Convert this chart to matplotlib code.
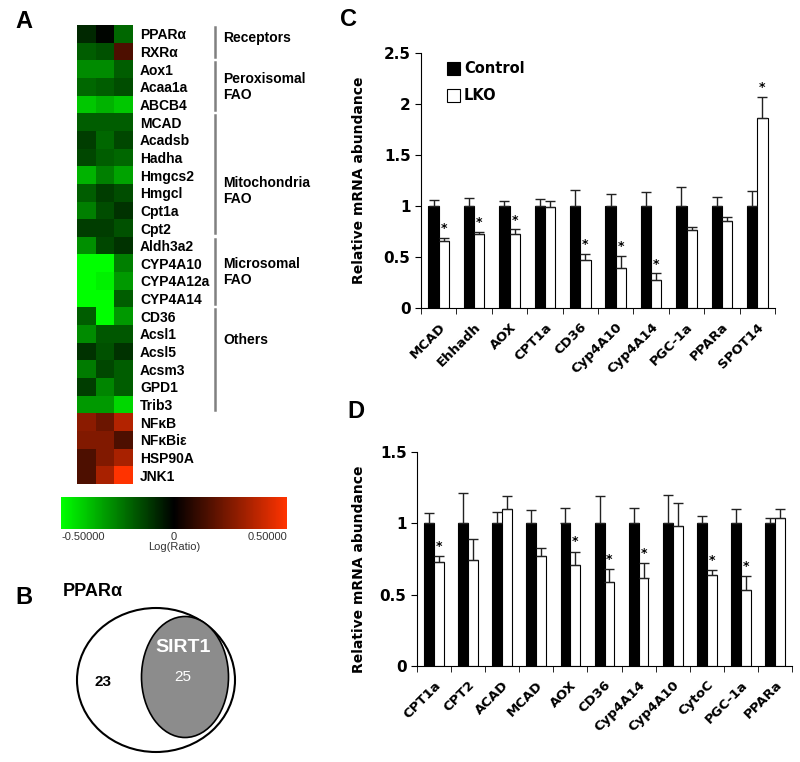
import numpy as np
import matplotlib.pyplot as plt
from matplotlib.colors import LinearSegmentedColormap
from matplotlib.patches import Ellipse

# ---- panel A data ----
genes = ["PPARα", "RXRα", "Aox1", "Acaa1a", "ABCB4", "MCAD", "Acadsb", "Hadha",
         "Hmgcs2", "Hmgcl", "Cpt1a", "Cpt2", "Aldh3a2", "CYP4A10", "CYP4A12a",
         "CYP4A14", "CD36", "Acsl1", "Acsl5", "Acsm3", "GPD1", "Trib3",
         "NFκB", "NFκBiε", "HSP90A", "JNK1"]
log_ratio = [
    [-0.08, -0.01, -0.20],
    [-0.18, -0.16, 0.15],
    [-0.27, -0.27, -0.18],
    [-0.20, -0.18, -0.15],
    [-0.39, -0.35, -0.39],
    [-0.18, -0.18, -0.18],
    [-0.12, -0.20, -0.14],
    [-0.14, -0.18, -0.20],
    [-0.35, -0.25, -0.32],
    [-0.18, -0.12, -0.15],
    [-0.25, -0.15, -0.10],
    [-0.12, -0.12, -0.16],
    [-0.28, -0.14, -0.10],
    [-0.50, -0.50, -0.25],
    [-0.50, -0.47, -0.30],
    [-0.50, -0.50, -0.18],
    [-0.18, -0.50, -0.30],
    [-0.27, -0.17, -0.17],
    [-0.10, -0.16, -0.10],
    [-0.24, -0.14, -0.18],
    [-0.12, -0.26, -0.18],
    [-0.30, -0.30, -0.42],
    [0.27, 0.21, 0.35],
    [0.25, 0.25, 0.15],
    [0.15, 0.25, 0.33],
    [0.15, 0.33, 0.50],
]
groups = ["Receptors", "Peroxisomal\nFAO", "Mitochondria\nFAO", "Microsomal\nFAO", "Others"]
group_rows = [(0, 1), (2, 4), (5, 11), (12, 15), (16, 21)]
group_text_row = [0.25, 3.0, 8.9, 13.5, 17.35]

# ---- panel B data ----
venn_outer = "PPARα"
venn_inner = "SIRT1"
only_ppar = 23
shared = 25

# ---- panel C data ----
c_genes = ["MCAD", "Ehhadh", "AOX", "CPT1a", "CD36", "Cyp4A10", "Cyp4A14", "PGC-1a", "PPARa", "SPOT14"]
c_ctrl = [1, 1, 1, 1, 1, 1, 1, 1, 1, 1]
c_ctrl_err = [0.06, 0.08, 0.05, 0.07, 0.16, 0.12, 0.14, 0.19, 0.09, 0.15]
c_lko = [0.66, 0.73, 0.73, 0.99, 0.47, 0.39, 0.27, 0.76, 0.85, 1.86]
c_lko_err = [0.03, 0.02, 0.04, 0.06, 0.06, 0.12, 0.07, 0.03, 0.04, 0.21]
c_sig = [1, 1, 1, 0, 1, 1, 1, 0, 0, 1]

# ---- panel D data ----
d_genes = ["CPT1a", "CPT2", "ACAD", "MCAD", "AOX", "CD36", "Cyp4A14", "Cyp4A10", "CytoC", "PGC-1a", "PPARa"]
d_ctrl = [1, 1, 1, 1, 1, 1, 1, 1, 1, 1, 1]
d_ctrl_err = [0.07, 0.21, 0.08, 0.09, 0.11, 0.19, 0.11, 0.20, 0.05, 0.10, 0.04]
d_lko = [0.73, 0.74, 1.10, 0.77, 0.71, 0.59, 0.62, 0.98, 0.64, 0.53, 1.04]
d_lko_err = [0.04, 0.15, 0.09, 0.06, 0.09, 0.09, 0.10, 0.16, 0.03, 0.10, 0.06]
d_sig = [1, 0, 0, 0, 1, 1, 1, 0, 1, 1, 0]

W, H = 800, 762
fig = plt.figure(figsize=(W / 100, H / 100), dpi=100)

def rect(x0, y0, x1, y1):
    return [x0 / W, 1 - y1 / H, (x1 - x0) / W, (y1 - y0) / H]

ARIAL = "Liberation Sans"
VERD = "DejaVu Sans"

# panel letters
for lab, (x, y) in zip("ABCD", [(15, 21), (15, 597), (340, 19), (347, 412)]):
    fig.text(x / W, 1 - y / H, lab, fontsize=17, fontweight="bold", family=ARIAL, va="center")

# ---- A: heatmap ----
cmap = LinearSegmentedColormap.from_list("gbr", ["#00ff00", "#000000", "#ff3300"])
axA = fig.add_axes(rect(77, 25, 133, 484))
im = axA.imshow(np.array(log_ratio), cmap=cmap, vmin=-0.5, vmax=0.5, aspect="auto", interpolation="nearest")
axA.set_xticks([])
axA.yaxis.tick_right()
axA.set_yticks(range(len(genes)))
axA.set_yticklabels(genes, fontsize=10, fontweight="bold", family=ARIAL)
axA.tick_params(axis="y", length=0, pad=5)
for s in axA.spines.values():
    s.set_visible(False)
tr = axA.get_yaxis_transform()
for (r0, r1), g, ty in zip(group_rows, groups, group_text_row):
    axA.plot([2.46, 2.46], [r0 - 0.4, r1 + 0.3], color="#808080", lw=1.8, transform=tr, clip_on=False)
    axA.text(2.61, ty, g, transform=tr, fontsize=10, fontweight="bold", family=ARIAL,
             va="center", ha="left", linespacing=1.15)

cax = fig.add_axes(rect(61, 497, 287, 529))
cb = fig.colorbar(im, cax=cax, orientation="horizontal")
cb.outline.set_visible(False)
cb.set_ticks([-0.5, 0, 0.5])
cb.set_ticklabels(["-0.50000", "0", "0.50000"])
cax.tick_params(length=0, pad=2, labelsize=8, labelcolor="#333333")
for t, ha in zip(cax.get_xticklabels(), ["left", "center", "right"]):
    t.set_horizontalalignment(ha)
    t.set_family(ARIAL)
cax.set_xlabel("Log(Ratio)", fontsize=8, family=ARIAL, color="#333333", labelpad=0)

# ---- B: venn ----
ov = fig.add_axes([0, 0, 1, 1])
ov.set_xlim(0, W)
ov.set_ylim(H, 0)
ov.axis("off")
ov.add_patch(Ellipse((156, 680), 158, 144, facecolor="white", edgecolor="black", lw=1.5))
ov.add_patch(Ellipse((185, 677), 87, 121, facecolor="#8c8c8c", edgecolor="black", lw=1.2))
ov.text(63, 592, venn_outer, fontsize=13, fontweight="bold", family=ARIAL, va="center")
ov.text(183, 648, venn_inner, fontsize=14, fontweight="bold", family=ARIAL, color="white", ha="center", va="center")
ov.text(183, 677, str(shared), fontsize=11, family=ARIAL, color="white", ha="center", va="center")
ov.text(103, 682, str(only_ppar), fontsize=11, fontweight="bold", family=ARIAL, ha="center", va="center")

# ---- C & D: bar charts ----
def bar_panel(ax, names, ctrl, ctrl_err, lko, lko_err, sig, ymax, star_off):
    x = np.arange(len(names))
    w = 0.29
    ekw = dict(elinewidth=1, capthick=1, ecolor="#222222")
    ax.bar(x - 0.145, ctrl, w, color="black", edgecolor="black", lw=0.8, label="Control",
           yerr=[np.zeros(len(x)), ctrl_err], capsize=3.5, error_kw=ekw)
    ax.bar(x + 0.145, lko, w, color="white", edgecolor="black", lw=0.8, label="LKO",
           yerr=[np.zeros(len(x)), lko_err], capsize=3.5, error_kw=ekw)
    for i in range(len(x)):
        if sig[i]:
            ax.text(x[i] + 0.145, lko[i] + lko_err[i] + star_off, "*", ha="center", va="center",
                    fontsize=9, fontweight="bold", family=VERD)
    ax.set_xlim(-0.5, len(x) - 0.5)
    ax.set_ylim(0, ymax)
    ax.spines["top"].set_visible(False)
    ax.spines["right"].set_visible(False)
    ax.set_xticks(x)
    ax.set_xticklabels(names, rotation=45, ha="right", rotation_mode="anchor",
                       fontsize=9.5, fontweight="bold", family=VERD)
    ax.set_xticks(np.arange(len(x) + 1) - 0.5, minor=True)
    ax.tick_params(axis="x", which="major", length=0, pad=9)
    ax.tick_params(axis="x", which="minor", length=4, direction="out")
    ax.tick_params(axis="y", length=4, direction="out", labelsize=11)
    ax.set_ylabel("Relative mRNA abundance", fontsize=10, fontweight="bold", family=VERD)

axC = fig.add_axes(rect(421, 53, 775, 308))
bar_panel(axC, c_genes, c_ctrl, c_ctrl_err, c_lko, c_lko_err, c_sig, 2.5, 0.09)
axC.set_yticks([0, 0.5, 1, 1.5, 2, 2.5])
axC.set_yticklabels(["0", "0.5", "1", "1.5", "2", "2.5"], fontweight="bold", family=VERD)
axC.yaxis.set_label_coords(-0.155, 0.5)
leg = axC.legend(frameon=False, loc="upper left", bbox_to_anchor=(0.035, 1.02), handlelength=0.9,
                 handleheight=1.0, labelspacing=0.85, handletextpad=0.3,
                 prop=dict(family=VERD, weight="bold", size=10.5))

axD = fig.add_axes(rect(417, 452, 792, 666))
bar_panel(axD, d_genes, d_ctrl, d_ctrl_err, d_lko, d_lko_err, d_sig, 1.5, 0.07)
axD.set_yticks([0, 0.5, 1, 1.5])
axD.set_yticklabels(["0", "0.5", "1", "1.5"], fontweight="bold", family=VERD)
axD.yaxis.set_label_coords(-0.135, 0.45)

fig.savefig("out.png", dpi=100)
